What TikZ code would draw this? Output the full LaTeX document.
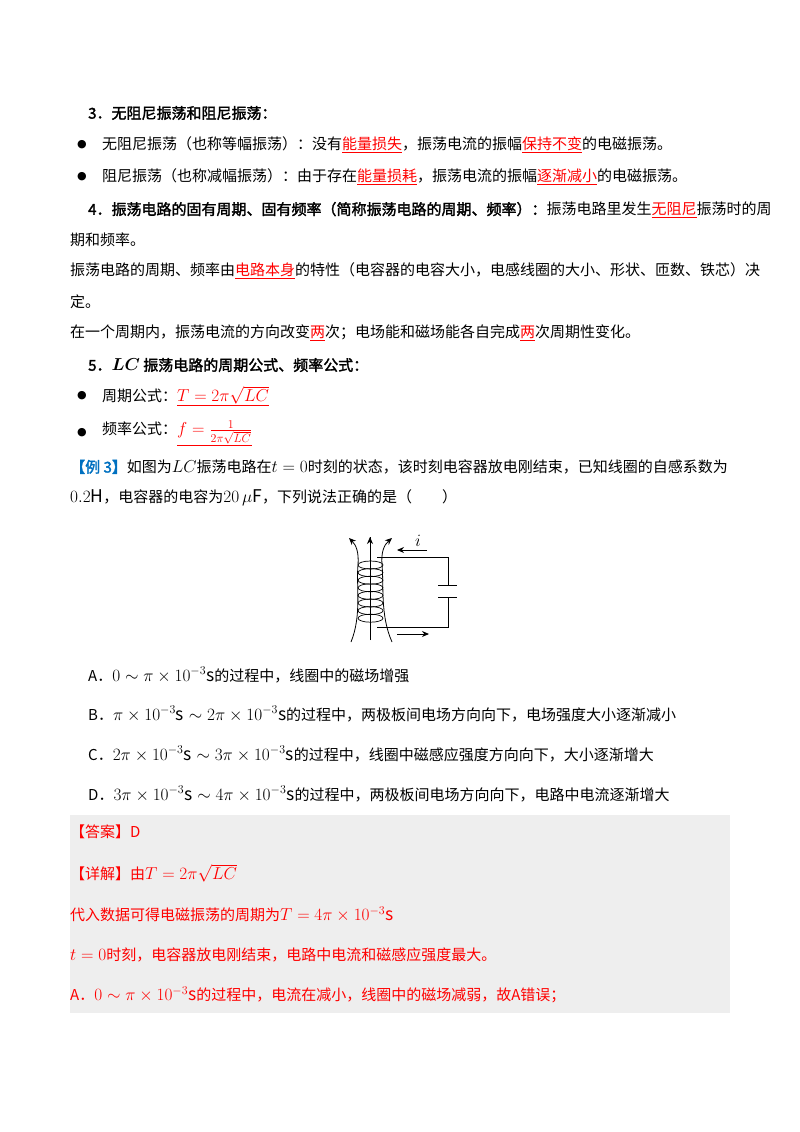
\documentclass[tikz,border=0pt]{standalone}
\usepackage{fontspec}
\setmainfont{Noto Sans CJK SC}[AutoFakeBold=2]
\newfontfamily\djvfont{DejaVu Sans}
\usetikzlibrary{arrows.meta}
\definecolor{rd}{HTML}{FF0000}
\definecolor{bl}{HTML}{0070C0}
\definecolor{gbox}{HTML}{EEEEEE}
\newcommand{\ru}[1]{\textcolor{rd}{\underline{#1}}}
\newcommand{\m}[1]{{\fontsize{17.5}{18}\selectfont$#1$}}
\begin{document}
\begin{tikzpicture}[x=1pt,y=-1pt,
  t/.style={anchor=west,inner sep=0pt,font=\fontsize{15}{18}\selectfont},
  tb/.style={t,font=\fontsize{15}{18}\selectfont\bfseries},
  tr/.style={t,text=rd},
  bu/.style={inner sep=0pt,font=\fontsize{11}{12}\selectfont\djvfont},
  wire/.style={line width=0.9pt},
  fl/.style={line width=0.8pt,-{Stealth[length=7pt,width=6pt]}}]
\useasboundingbox (0,0) rectangle (800,1132);
\fill[gbox] (70,815) rectangle (730,1013);
\node[tb] (h3) at (88,113) {3．无阻尼振荡和阻尼振荡：};
\node[bu] (b1) at (82,145) {●};
\node[t] (l1) at (102,145) {无阻尼振荡（也称等幅振荡）：没有\ru{能量损失}，振荡电流的振幅\ru{保持不变}的电磁振荡。};
\node[bu] (b2) at (82,177) {●};
\node[t] (l2) at (102,177) {阻尼振荡（也称减幅振荡）：由于存在\ru{能量损耗}，振荡电流的振幅\ru{逐渐减小}的电磁振荡。};
\node[t] (h4) at (88,210) {\textbf{4．振荡电路的固有周期、固有频率（简称振荡电路的周期、频率）：}振荡电路里发生\ru{无阻尼}振荡时的周};
\node[t] (l3) at (70,240) {期和频率。};
\node[t] (l4) at (70,271) {振荡电路的周期、频率由\ru{电路本身}的特性（电容器的电容大小，电感线圈的大小、形状、匝数、铁芯）决};
\node[t] (l5) at (70,302) {定。};
\node[t] (l6) at (70,333) {在一个周期内，振荡电流的方向改变\ru{两}次；电场能和磁场能各自完成\ru{两}次周期性变化。};
\node[tb] (h5) at (88,365) {5．{\boldmath\m{LC}} 振荡电路的周期公式、频率公式：};
\node[bu] (b3) at (82,396) {●};
\node[t] (l7) at (102,396) {周期公式：\ru{\m{T=2\pi\sqrt{LC}}}};
\node[bu] (b4) at (82,433) {●};
\node[t] (l8) at (102,433) {频率公式：\ru{\m{f=\frac{1}{2\pi\sqrt{LC}}}}};
\node[t] (ex1) at (70,467) {\textcolor{bl}{\textbf{【例 3】}}如图为\m{LC}振荡电路在\m{t=0}时刻的状态，该时刻电容器放电刚结束，已知线圈的自感系数为};
\node[t] (ex2) at (70,498) {\m{0.2\mathrm{H}}，电容器的电容为\m{20\,\mu\mathrm{F}}，下列说法正确的是（\quad\quad）};
% circuit
\coordinate (ct) at (377,557);
\coordinate (cb) at (377,627);
\coordinate (tr) at (448,557);
\coordinate (br) at (448,627);
\coordinate (p1) at (448,585);
\coordinate (p2) at (448,597);
\draw[wire] (ct) -- (tr) -- (p1);
\draw[wire] (p2) -- (br) -- (cb);
\draw[wire] (438,585) -- (457,585);
\draw[wire] (438,597) -- (457,597);
\draw[line width=0.8pt] (370,640) -- (370,537);
\draw[fl] (370,545) -- (370,537);
\foreach \i in {0,...,7}{\draw[line width=0.7pt] (370.5,565+\i*7.6) ellipse (12.5 and 4);}
\draw[fl] (351,642) .. controls (362,615) and (356,585) .. (358,565) .. controls (359,552) and (356,545) .. (349,538);
\draw[fl] (392,642) .. controls (380,615) and (384,585) .. (382,565) .. controls (381,552) and (384,545) .. (392,538);
\coordinate (ia) at (427,550);
\coordinate (ib) at (397,550);
\draw[wire,-{Stealth[length=7pt,width=6pt]}] (ia) -- (ib);
\node[inner sep=0pt] (il) at (418,541) {\m{i}};
\coordinate (ja) at (397,634);
\coordinate (jb) at (429,634);
\draw[wire,-{Stealth[length=7pt,width=6pt]}] (ja) -- (jb);
% options
\node[t] (oa) at (88,675) {A．\m{0\sim\pi\times10^{-3}\mathrm{s}}的过程中，线圈中的磁场增强};
\node[t] (ob) at (88,714) {B．\m{\pi\times10^{-3}\mathrm{s}\sim2\pi\times10^{-3}\mathrm{s}}的过程中，两极板间电场方向向下，电场强度大小逐渐减小};
\node[t] (oc) at (88,754) {C．\m{2\pi\times10^{-3}\mathrm{s}\sim3\pi\times10^{-3}\mathrm{s}}的过程中，线圈中磁感应强度方向向下，大小逐渐增大};
\node[t] (od) at (88,794) {D．\m{3\pi\times10^{-3}\mathrm{s}\sim4\pi\times10^{-3}\mathrm{s}}的过程中，两极板间电场方向向下，电路中电流逐渐增大};
\node[tr] (s1) at (70,832) {【答案】D};
\node[tr] (s2) at (70,873) {【详解】由\m{T=2\pi\sqrt{LC}}};
\node[tr] (s3) at (70,914) {代入数据可得电磁振荡的周期为\m{T=4\pi\times10^{-3}\mathrm{s}}};
\node[tr] (s4) at (70,955) {\m{t=0}时刻，电容器放电刚结束，电路中电流和磁感应强度最大。};
\node[tr] (s5) at (70,995) {A．\m{0\sim\pi\times10^{-3}\mathrm{s}}的过程中，电流在减小，线圈中的磁场减弱，故A错误；};
\end{tikzpicture}
\end{document}
